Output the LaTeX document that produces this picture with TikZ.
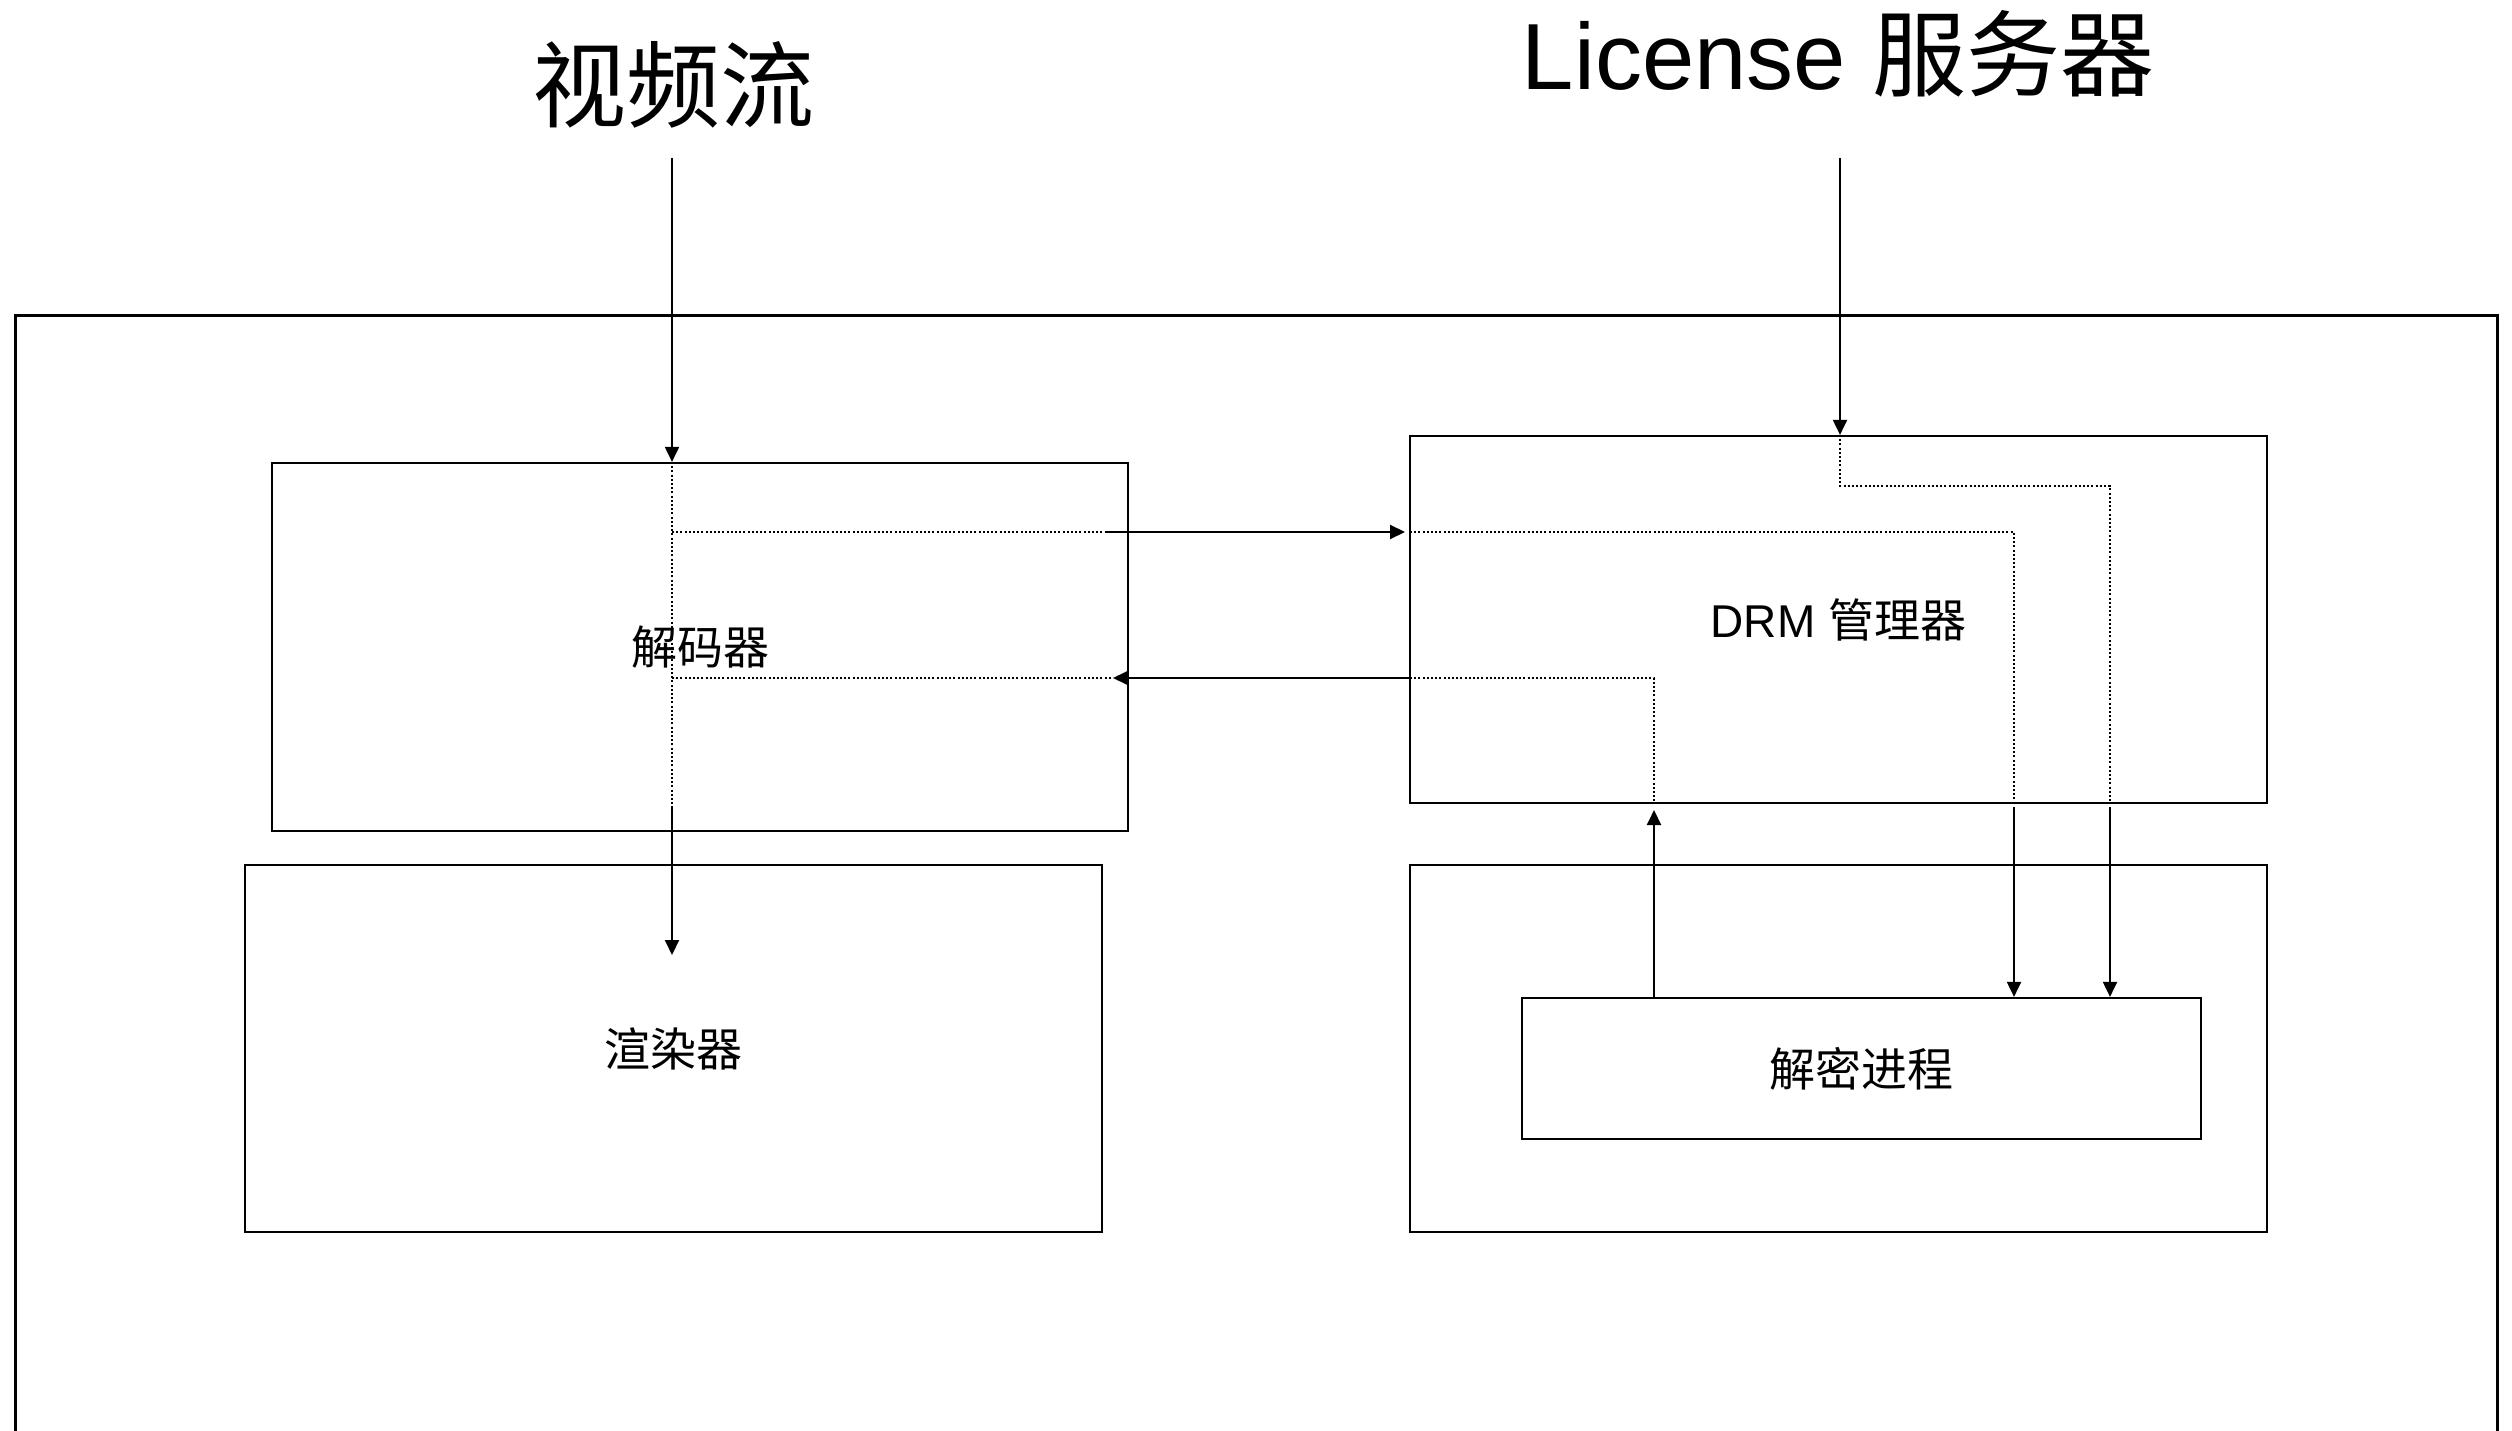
\documentclass[tikz,border=0pt]{standalone}
\usepackage{fontspec}
\setmainfont{Liberation Sans}
\newfontfamily\cjk{Noto Sans CJK SC}
\usetikzlibrary{arrows.meta}

\tikzset{every picture/.style={line width=2pt}}
\tikzset{
  blockbox/.style={draw, line width=2.2pt, inner sep=0pt, font=\fontsize{46}{55}\selectfont},
  flow/.style={-{Triangle[length=15pt,width=14pt]}, line width=2pt},
  route/.style={line width=1.8pt, dash pattern=on 2pt off 2.2pt},
  titletext/.style={inner sep=0pt, anchor=base, font=\fontsize{94}{110}\selectfont}
}

\begin{document}
\begin{tikzpicture}[x=1pt,y=1pt,yscale=-1,xscale=1]
    \useasboundingbox (0,0) rectangle (2512,1431);

    %Outer frame
    \draw [line width=3pt] (15,1450) -- (15,316) -- (2497,316) -- (2497,1450) ;

    %Blocks
    \node [blockbox, minimum width=856, minimum height=368] (decoder) at (700,647) {\cjk 解码器};
    \node [blockbox, minimum width=857, minimum height=367] (renderer) at (673.5,1048.5) {\cjk 渲染器};
    \node [blockbox, minimum width=857, minimum height=367] (drm) at (1838.5,619.5) {DRM {\cjk 管理器}};
    \node [blockbox, minimum width=857, minimum height=367] (hostbox) at (1838.5,1048.5) {};
    \node [blockbox, minimum width=679, minimum height=141] (decrypt) at (1861.5,1068.5) {\cjk 解密进程};

    % Text Node
    \node [titletext] (stream) at (673,121) {\cjk 视频流};
    % Text Node
    \node [titletext] (license) at (1838,90) {License {\cjk 服务器}};

    %Coordinates
    \coordinate (streamsrc) at (672,158);
    \coordinate (licensesrc) at (1840,158);
    \coordinate (toRender) at (672,955);
    \coordinate (sendrow) at (1107,532);
    \coordinate (backrow) at (1410,678);
    \coordinate (keyA) at (2014,807);
    \coordinate (keyB) at (2110,807);
    \coordinate (outkey) at (1654,810);

    %Straight Lines
    \draw [flow] (streamsrc) -- (streamsrc |- decoder.north) ;
    \draw [flow] (licensesrc) -- (licensesrc |- drm.north) ;

    %Dotted routes inside decoder
    \draw [route] (streamsrc |- decoder.north) -- (672,808) ;
    \draw [route] (672,532) -- (sendrow) ;
    \draw [route] (672,678) -- (1113,678) ;
    \draw [flow] (672,808) -- (toRender) ;
    \draw [flow] (sendrow) -- (1405,532) ;
    \draw [flow] (backrow) -- (1113,678) ;

    %Dotted routes inside DRM
    \draw [route] (1410,532) -- (2014,532) -- (2014,803) ;
    \draw [route] (licensesrc |- drm.north) -- (1840,486) -- (2110,486) -- (2110,803) ;
    \draw [route] (backrow) -- (1654,678) -- (1654,803) ;

    %Straight Lines
    \draw [flow] (keyA) -- (keyA |- decrypt.north) ;
    \draw [flow] (keyB) -- (keyB |- decrypt.north) ;
    \draw [flow] (outkey |- decrypt.north) -- (outkey) ;

\end{tikzpicture}
\end{document}
